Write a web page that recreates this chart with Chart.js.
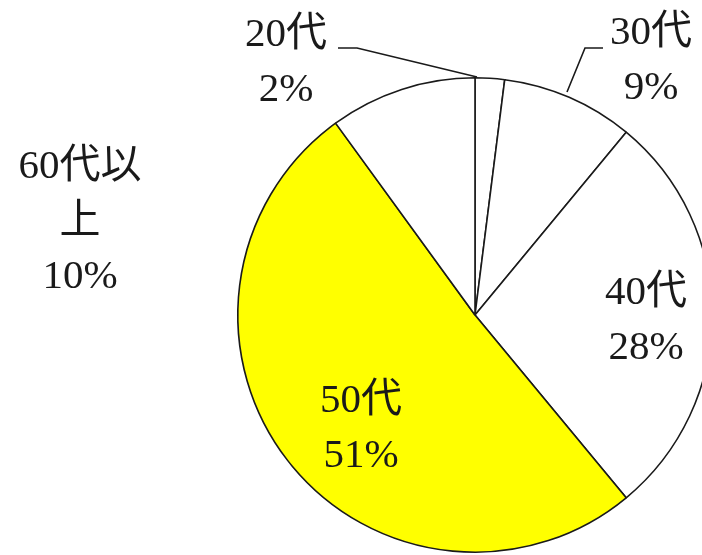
<!DOCTYPE html>
<html lang="ja">
<head>
<meta charset="utf-8">
<script src="https://cdn.jsdelivr.net/npm/chart.js@4.4.1/dist/chart.umd.min.js"></script>
<style>
    html, body { margin: 0; padding: 0; background: #fff; overflow: hidden; width: 702px; height: 555px; }
    #wrap { position: absolute; left: 0; top: 0; width: 720px; height: 560px; }
</style>
</head>
<body>
<div id="wrap"><canvas id="grafico-idade" width="720" height="560"></canvas></div>
<script>
    var categorias = ['20代', '30代', '40代', '50代', '60代以上'];
    var percentuais = [2, 9, 28, 51, 10];
    var rotulos = [['20代', '2%'], ['30代', '9%'], ['40代', '28%'], ['50代', '51%'], ['60代以', '上', '10%']];
    var cores = ['#ffffff', '#ffffff', '#ffffff', '#ffff00', '#ffffff'];

    // label placement (offset from pie centre) and optional leader line
    var posRotulos = [
        { dx: -189, dy: -252, leader: [[-137, -267], [-118, -267], [2, -238]] },
        { dx: 176, dy: -254, leader: [[128, -267], [110, -267], [92, -223]] },
        { dx: 171, dy: 6 },
        { dx: -114, dy: 114 },
        { dx: -395, dy: -93 }
    ];

    var pluginRotulos = {
        id: 'rotulos',
        afterDatasetsDraw: function (chart) {
            var ctx = chart.ctx;
            var arcs = chart.getDatasetMeta(0).data;
            if (!arcs.length) return;
            var cx = arcs[0].x, cy = arcs[0].y;
            var lh = 55;
            ctx.save();
            ctx.fillStyle = '#1a1a1a';
            ctx.strokeStyle = '#1a1a1a';
            ctx.lineWidth = 1.6;
            ctx.font = '41px "Liberation Serif", "Noto Sans CJK JP", serif';
            ctx.textAlign = 'center';
            ctx.textBaseline = 'middle';
            rotulos.forEach(function (linhas, i) {
                var p = posRotulos[i];
                var x = cx + p.dx;
                var y0 = cy + p.dy - (linhas.length - 1) * lh / 2;
                linhas.forEach(function (t, j) {
                    ctx.fillText(t, x, y0 + j * lh);
                });
                if (p.leader) {
                    ctx.beginPath();
                    p.leader.forEach(function (pt, k) {
                        if (k === 0) ctx.moveTo(cx + pt[0], cy + pt[1]);
                        else ctx.lineTo(cx + pt[0], cy + pt[1]);
                    });
                    ctx.stroke();
                }
            });
            ctx.restore();
        }
    };

    new Chart(document.getElementById('grafico-idade'), {
        type: 'pie',
        data: {
            labels: categorias,
            datasets: [{
                data: percentuais,
                backgroundColor: cores,
                borderColor: '#1a1a1a',
                borderWidth: 1.6
            }]
        },
        options: {
            responsive: false,
            animation: false,
            devicePixelRatio: 1,
            layout: { padding: { left: 237, top: 77, right: 7, bottom: 7 } },
            plugins: {
                legend: { display: false },
                tooltip: { enabled: false }
            }
        },
        plugins: [pluginRotulos]
    });
</script>
</body>
</html>
